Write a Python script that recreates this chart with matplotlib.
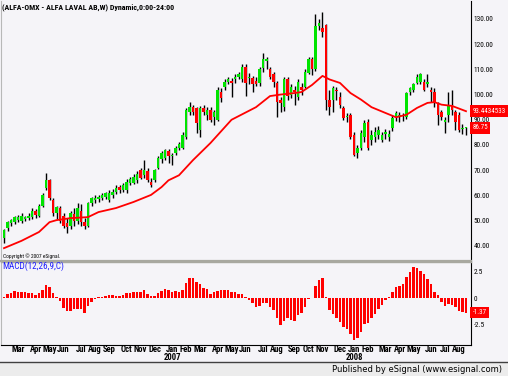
import pandas as pd
import matplotlib
matplotlib.use('Agg')
import matplotlib.pyplot as plt
from matplotlib import font_manager
from matplotlib.transforms import blended_transform_factory
from matplotlib.patches import Rectangle

# pick a narrow face if one is installed (eSignal uses a tight bitmap font)
have = {f.name for f in font_manager.fontManager.ttflist}
narrow = next((n for n in ['Liberation Sans Narrow', 'DejaVu Sans Condensed',
                           'Roboto Condensed'] if n in have), 'DejaVu Sans')
plt.rcParams['font.family'] = [narrow, 'DejaVu Sans']

# weekly OHLC, ALFA-OMX
opens = [43.1, 47, 49, 49.4, 50.2, 50, 50.5, 51, 51.6, 54,
         52, 56, 63, 66, 58, 53, 55, 52, 49, 48,
         52.5, 50, 54, 49.5, 48, 57, 58, 58.5, 59, 59.5,
         58, 60, 61.5, 63.5, 62, 62, 65, 65, 66, 70,
         68, 69.5, 65.5, 66, 71, 74.5, 75, 77.5, 75.5, 77,
         79, 79, 83, 93, 95, 94.6, 86, 94.5, 92, 94,
         91, 90, 101, 103, 105, 105.5, 106, 107, 106, 111,
         106.5, 106.5, 105.5, 104.6, 110.6, 113.5, 110, 108, 104.6, 98,
         95, 106, 100, 102, 99, 103, 103, 108.6, 114, 110,
         127, 126.4, 127.6, 98, 97.8, 102, 99, 94.6, 91, 92,
         84, 77, 79, 83, 89, 82, 83, 84, 82, 84.5,
         83, 86.7, 91, 91.5, 91.5, 91, 101, 102, 104.6, 105,
         105, 104, 102, 101, 96.7, 93, 89, 92, 96, 93,
         92, 86.5, 86.75]
highs = [46.8, 50, 50.8, 52, 52.4, 53, 52, 53, 55, 54.8,
         56.8, 61, 68.9, 66.5, 59, 56, 56, 53, 51, 54,
         55, 57, 56.5, 51, 57.5, 59.5, 60, 60.2, 61, 61.5,
         62, 62.5, 64, 64, 65, 66.5, 67.5, 68.5, 69.5, 71,
         74, 71, 67, 70.5, 75.5, 77.5, 78.5, 78.5, 77, 79.5,
         81, 85, 94.5, 97, 96, 95, 95.5, 96, 95, 95,
         94, 103, 102.5, 106, 107, 106.5, 108, 109, 112, 112,
         108.5, 107.5, 107, 111, 116.5, 115, 111, 109, 105.5, 99,
         107, 107, 104, 103.5, 106, 104.5, 110, 115, 115, 132,
         130, 132.8, 128, 102, 103.5, 103, 101, 95.5, 92.5, 92.5,
         85, 80, 86, 90, 90.5, 86, 87, 87.5, 85, 86.5,
         86, 92, 93.5, 93, 92.5, 101, 103, 104.5, 108, 108.5,
         106, 108, 103, 102.5, 97, 94, 91, 101, 101.8, 94,
         93, 88.5, 87]
lows = [41.1, 46, 48, 48.6, 49.5, 49.2, 49.8, 50.2, 50.8, 51.2,
        51.5, 55.5, 62, 58, 52, 50.5, 49, 47, 45, 46.5,
        48, 48.5, 48, 46.5, 47.5, 56, 57, 57.2, 58, 58.5,
        57.5, 59, 60.5, 61, 61.5, 61, 64, 64.5, 65, 66.5,
        66.8, 65.5, 63.3, 65.5, 70.5, 73, 74, 73, 72, 76,
        78, 78.5, 82.5, 92, 92, 84.8, 83, 92, 90, 89,
        88, 89.5, 97, 102, 104, 99, 104.5, 106, 105, 99.5,
        104, 101, 103.5, 103.5, 109, 110, 106, 103, 91, 93,
        93.5, 98, 98.5, 96, 98, 100, 102.5, 108, 107.8, 109.5,
        125.5, 123, 94, 92, 93, 98, 94.5, 90, 89, 82.5,
        75.5, 74.8, 78, 81, 78, 80, 81, 82.5, 81, 82.5,
        81.5, 85.5, 89.5, 89, 89.5, 90.5, 100, 101, 104, 104,
        101.5, 103, 97, 95, 88, 90, 84.8, 89, 92, 86,
        85, 84.5, 84]
closes = [46.3, 49.4, 50.2, 51.4, 51.4, 52, 51.5, 52, 54, 52.2,
          56, 60, 66, 59, 53, 55.4, 50, 48, 47.5, 53,
          50, 55, 49.5, 48, 57, 59, 59, 59.5, 60, 61,
          61, 61.5, 63, 62, 64, 65.5, 66.5, 67.5, 68.5, 67,
          70, 66, 64, 70, 75, 77, 78, 75.5, 76, 79,
          80.5, 84, 94, 95, 93, 88.7, 94.6, 93, 94, 90,
          93, 102, 98.5, 105, 106, 104.5, 107, 108, 111, 104.6,
          107, 104, 104, 110, 114, 114, 107, 105, 97, 96.5,
          106, 99.6, 103, 101, 105, 102, 109, 114, 110, 127,
          128.5, 125, 97.8, 95, 102.6, 101.5, 95.8, 90.7, 91.5, 83,
          76, 79, 84.8, 88.7, 79, 84, 85, 86, 84, 85,
          84.5, 90.7, 92.7, 92, 92, 100.6, 102.6, 104, 107, 108,
          102, 105, 101, 97, 92, 91, 90, 96, 94, 89,
          86, 86.75, 86.75]

# moving average, sampled at bar numbers
ma_week = [0, 5, 10, 13, 15, 19, 24, 27, 32, 37, 42, 45, 47, 50, 54, 59, 65,
           72, 76, 79, 83, 85, 88, 91, 93, 96, 99, 102, 105, 109, 112, 115,
           118, 121, 123, 125, 128, 132]
ma_value = [39.1, 42, 45.5, 49.4, 50.2, 51, 51.4, 53.4, 55, 57.4, 60.2, 63.3,
            66, 68, 74, 80.8, 90, 95, 99.4, 100, 100.6, 101, 103.8, 107.4, 106,
            104.6, 100.6, 98, 95, 92.7, 91, 92, 94.7, 96.7, 97, 96, 95.5, 93.4]

macd = [0.1, 0.35, 0.5, 0.65, 0.6, 0.6, 0.6, 0.5, 0.45, 0.3,
        0.45, 0.7, 1.2, 1.0, 0.45, 0.1, -0.25, -0.9, -1.2, -1.2,
        -1.05, -1.0, -1.05, -1.35, -0.75, -0.35, -0.1, 0.05, 0.05, 0.2,
        0.3, 0.3, 0.2, 0.2, 0.25, 0.45, 0.45, 0.55, 0.55, 0.6,
        0.7, 0.4, 0.15, 0.2, 0.45,
        0.65, 0.8, 0.7, 0.55, 0.65, 0.55, 0.7, 1.4, 1.85, 1.9,
        1.45, 1.35, 0.95, 0.8, 0.4, 0.6, 0.65, 0.75, 0.7, 0.75,
        0.6, 0.55, 0.35, 0.4, 0.1, -0.15, -0.5, -0.8, -0.7, -0.45,
        -0.5, -0.8, -1.15, -1.85, -2.5, -2.1, -1.9, -2.0, -2.1, -1.6,
        -1.35, -0.8, -0.1, 0.03,
        1.09, 1.7, 1.85, 0.1, -1.12, -1.52, -1.88, -2.27, -2.73, -2.88,
        -3.33, -3.88, -3.76, -3.15, -2.39, -2.33, -1.82, -1.52, -1.06, -0.61,
        -0.15, 0.12, 0.6, 1.0, 1.12, 1.3, 2.0, 2.45, 2.9, 2.76,
        2.5, 2.2, 1.76, 1.3, 0.6, 0.25, -0.36, -0.73, -0.6, -0.67,
        -0.88, -1.21, -1.33, -1.37]

price_ticks = [40, 50, 60, 70, 80, 90, 100, 110, 120, 130]
macd_ticks = [2.5, 0, -2.5]
ma_last = '93.4434533'
close_last = '86.75'
macd_last = '-1.37'

dates = pd.date_range('2006-02-03', periods=len(closes), freq='W-FRI')
idx = list(range(len(closes)))

BG = '#F5F4F8'
W, H = 508, 376
fig = plt.figure(figsize=(W / 100, H / 100), dpi=100, facecolor=BG)
renderer = fig.canvas.get_renderer()


def box(x0, y0, x1, y1):
    # pixel box (top-left origin) -> figure fraction rect
    return [x0 / W, 1 - y1 / H, (x1 - x0) / W, (y1 - y0) / H]


def size_for(s, width_px, **kw):
    # font size that makes string s about width_px wide
    t = fig.text(0, 0, s, fontsize=10, **kw)
    w = t.get_window_extent(renderer=renderer).width
    t.remove()
    return 10 * width_px / w


tick_fs = size_for('130.00', 20)
month_fs = size_for('Mar', 13.5, fontweight='bold')
title_fs = size_for('(ALFA-OMX - ALFA LAVAL AB,W) Dynamic,0:00-24:00', 172,
                    fontweight='bold')
box_fs = size_for(ma_last, 33)

ax = fig.add_axes(box(1, 1, 471, 261), facecolor=BG)
ax2 = fig.add_axes(box(1, 262, 471, 345), facecolor=BG)

# candles
for i in idx:
    o, h, l, c = opens[i], highs[i], lows[i], closes[i]
    col = '#00E400' if c >= o else '#FF0000'
    ax.vlines(i, l, h, color='black', lw=1.0, zorder=2)
    body = max(abs(c - o), 0.35)
    ax.bar(i, body, bottom=min(o, c), width=0.74, color=col,
           edgecolor='none', zorder=3)

ax.plot(ma_week, ma_value, color='#FF0000', lw=1.3, zorder=4)

ax.set_xlim(-0.86, len(idx) - 1 + 1.43)
ax.set_ylim(34.0, 137.1)
ax.yaxis.tick_right()
ax.set_yticks(price_ticks)
ax.set_yticklabels(['%.2f' % v for v in price_ticks])
ax.tick_params(axis='y', length=0, pad=2, labelsize=tick_fs)
ax.set_xticks([])
ax.spines['top'].set_visible(False)
ax.spines['left'].set_color('#B8B8B8')
ax.spines['right'].set_color('black')
ax.spines['bottom'].set_color('#A8A8A0')
ax.spines['bottom'].set_linewidth(1.6)

ytr = ax.get_yaxis_transform()
for val in [ma_last, close_last]:
    ax.text(1.003, float(val), val, transform=ytr, ha='left', va='center',
            fontsize=box_fs, color='white', clip_on=False,
            bbox=dict(boxstyle='square,pad=0.3', fc='#FF0000', ec='none'))

# MACD histogram
ax2.bar(idx, macd, width=0.62, color='#FF0000', edgecolor='none')
ax2.set_xlim(ax.get_xlim())
ax2.set_ylim(-4.37, 3.35)
ax2.yaxis.tick_right()
ax2.set_yticks(macd_ticks)
ax2.set_yticklabels(['%g' % v for v in macd_ticks])
ax2.tick_params(axis='y', length=0, pad=2, labelsize=tick_fs)
ax2.set_xticks([])
ax2.spines['top'].set_color('#A8A8A0')
ax2.spines['top'].set_linewidth(1.0)
ax2.spines['left'].set_color('#B8B8B8')
ax2.spines['right'].set_color('black')
ax2.spines['bottom'].set_color('black')
ytr2 = ax2.get_yaxis_transform()
ax2.text(1.003, macd[-1], macd_last, transform=ytr2, ha='left', va='center',
         fontsize=box_fs, color='white', clip_on=False,
         bbox=dict(boxstyle='square,pad=0.3', fc='#FF0000', ec='none'))

# month labels
xtr = blended_transform_factory(ax2.transData, fig.transFigure)
prev = dates[0].month
for i, d in enumerate(dates):
    if d.month != prev:
        ax2.text(i, 1 - 350 / H, d.strftime('%b'), transform=xtr,
                 ha='center', va='center', fontsize=month_fs,
                 fontweight='bold', clip_on=False)
        if d.month == 1:
            ax2.text(i, 1 - 357.5 / H, str(d.year), transform=xtr,
                     ha='center', va='center', fontsize=month_fs,
                     fontweight='bold', clip_on=False)
    prev = d.month

fig.text(2 / W, 1 - 7 / H, '(ALFA-OMX - ALFA LAVAL AB,W) Dynamic,0:00-24:00',
         ha='left', va='center', fontsize=title_fs, fontweight='bold')
fig.text(3 / W, 1 - 256 / H, 'Copyright \u00a9 2007 eSignal.', ha='left',
         va='center', fontsize=title_fs * 0.7)
fig.text(2 / W, 1 - 266 / H, 'MACD(12,26,9,C)', ha='left', va='center',
         fontsize=month_fs * 1.05, color='#2020FF')

# bottom strip
fig.patches.append(Rectangle((0, 0), 1, (H - 362) / H, transform=fig.transFigure,
                             fc='#ECECEC', ec='none', zorder=0))
fig.add_artist(plt.Line2D([0, 1], [(H - 362) / H] * 2, transform=fig.transFigure,
                          color='#404040', lw=1.0))
pub_fs = size_for('Published by eSignal (www.esignal.com)', 170,
                  family=['DejaVu Sans'])
fig.text(502 / W, 1 - 369 / H, 'Published by eSignal (www.esignal.com)',
         ha='right', va='center', fontsize=pub_fs, family=['DejaVu Sans'])

fig.savefig('out.png', dpi=100, facecolor=BG)
